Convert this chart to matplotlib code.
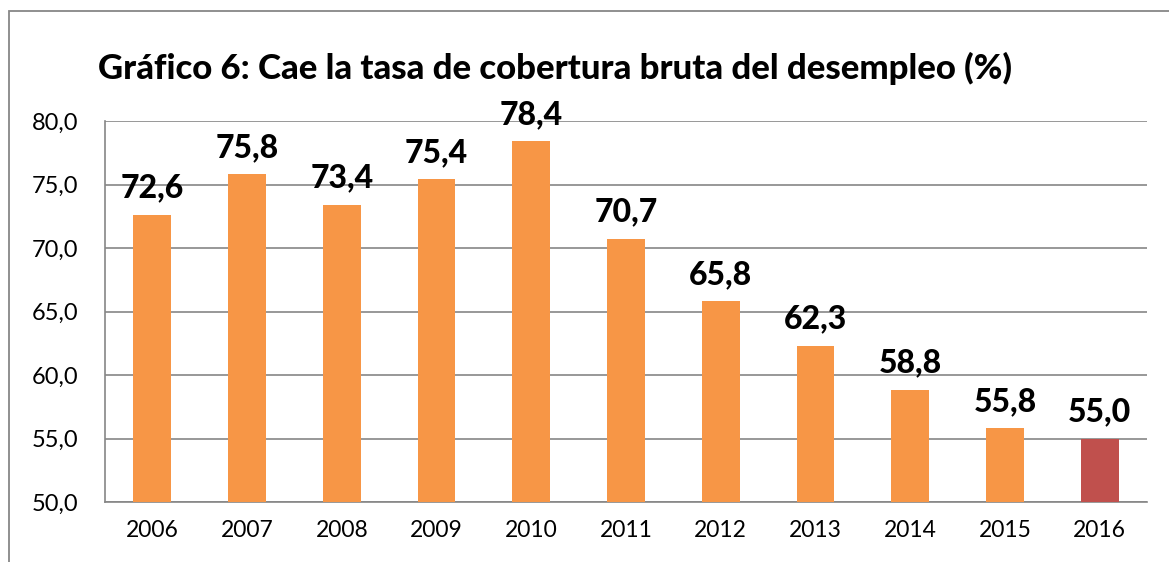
import matplotlib.pyplot as plt
from matplotlib.patches import Rectangle

years = ["2006", "2007", "2008", "2009", "2010", "2011", "2012", "2013", "2014", "2015", "2016"]
tasa = [72.6, 75.8, 73.4, 75.4, 78.4, 70.7, 65.8, 62.3, 58.8, 55.8, 55.0]
yticks = [50, 55, 60, 65, 70, 75, 80]

orange = "#F79646"
red = "#C0504D"
colors = [orange] * (len(years) - 1) + [red]

plt.rcParams["font.family"] = ["Lato", "DejaVu Sans"]

fig = plt.figure(figsize=(11.69, 5.62), dpi=100)
ax = fig.add_axes([105 / 1169, 1 - 502 / 562, (1147 - 105) / 1169, (502 - 121) / 562])

# outer chart frame (cut off on right and bottom)
fig.patches.append(Rectangle((9 / 1169, -0.1), 1.2, 1 - 11 / 562 + 0.1,
                             transform=fig.transFigure, fill=False,
                             edgecolor="#878787", linewidth=1.3))

x = range(len(years))
ax.bar(x, tasa, width=0.4, color=colors, zorder=3)
ax.set_ylim(50, 80)
ax.set_xlim(-0.5, len(years) - 0.5)
ax.set_yticks(yticks)
ax.set_yticklabels([f"{v:.1f}".replace(".", ",") for v in yticks], fontsize=17)
ax.set_xticks(list(x))
ax.set_xticklabels(years, fontsize=16.5)
ax.tick_params(length=0, pad=19, axis="y")
ax.tick_params(length=0, pad=13, axis="x")
ax.grid(axis="y", color="#868686", linewidth=1.2, zorder=0)
for s in ["top", "right"]:
    ax.spines[s].set_visible(False)
for s in ["left", "bottom"]:
    ax.spines[s].set_color("#868686")
    ax.spines[s].set_linewidth(1.2)

for i, v in enumerate(tasa):
    ax.annotate(f"{v:.1f}".replace(".", ","), (i, v), xytext=(0, 9),
                textcoords="offset points", ha="center", va="bottom",
                fontsize=23, fontweight="black", zorder=4)

fig.text(555 / 1169, 1 - 68 / 562, "Gráfico 6: Cae la tasa de cobertura bruta del desempleo (%)",
         ha="center", va="center", fontsize=25, fontweight="black")

fig.savefig("out.png", dpi=100)
